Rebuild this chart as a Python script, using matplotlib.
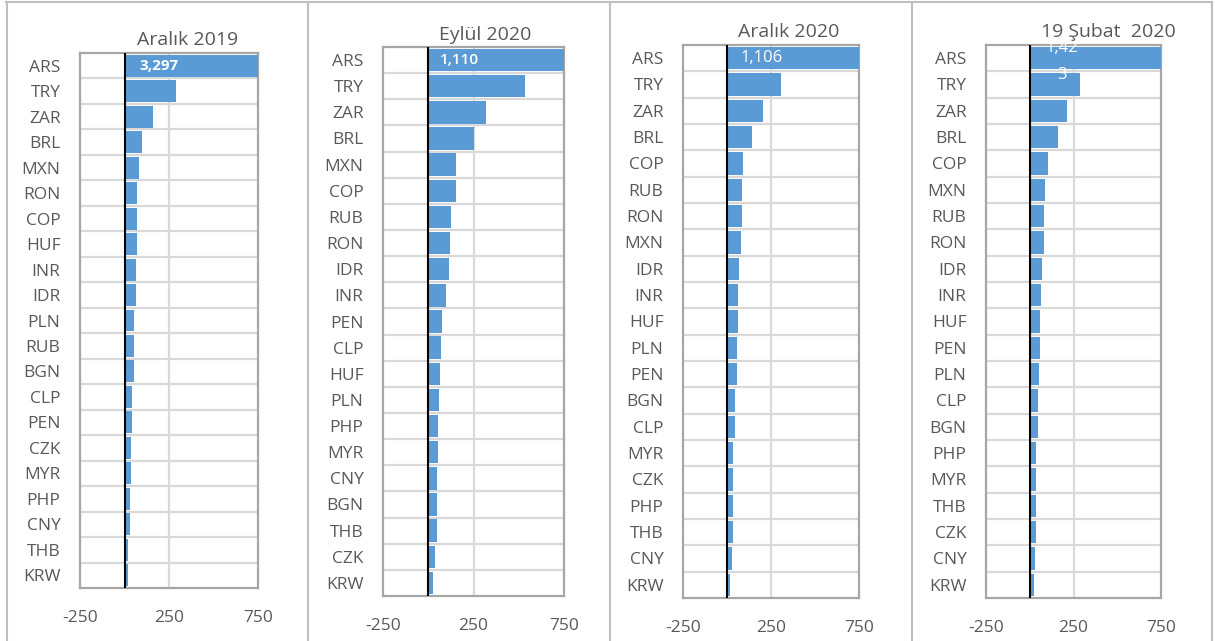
import matplotlib
matplotlib.use("Agg")
import matplotlib.pyplot as plt
from matplotlib.lines import Line2D

# ---- data ----
titles = ["Aralık 2019", "Eylül 2020", "Aralık 2020", "19 Şubat  2020"]

cur_dec19 = ["ARS", "TRY", "ZAR", "BRL", "MXN", "RON", "COP", "HUF", "INR", "IDR",
             "PLN", "RUB", "BGN", "CLP", "PEN", "CZK", "MYR", "PHP", "CNY", "THB", "KRW"]
val_dec19 = [3297, 287, 159, 98, 79, 71, 70, 70, 62, 62,
             56, 54, 54, 41, 41, 34, 34, 32, 30, 21, 21]

cur_sep20 = ["ARS", "TRY", "ZAR", "BRL", "MXN", "COP", "RUB", "RON", "IDR", "INR",
             "PEN", "CLP", "HUF", "PLN", "PHP", "MYR", "CNY", "BGN", "THB", "CZK", "KRW"]
val_sep20 = [1110, 534, 320, 250, 152, 152, 126, 118, 115, 100,
             78, 70, 67, 57, 55, 55, 50, 50, 50, 39, 28]

cur_dec20 = ["ARS", "TRY", "ZAR", "BRL", "COP", "RUB", "RON", "MXN", "IDR", "INR",
             "HUF", "PLN", "PEN", "BGN", "CLP", "MYR", "CZK", "PHP", "THB", "CNY", "KRW"]
val_dec20 = [1106, 304, 203, 144, 89, 85, 85, 82, 66, 65,
             61, 57, 55, 46, 44, 36, 36, 36, 34, 28, 19]

cur_feb20 = ["ARS", "TRY", "ZAR", "BRL", "COP", "MXN", "RUB", "RON", "IDR", "INR",
             "HUF", "PEN", "PLN", "CLP", "BGN", "PHP", "MYR", "THB", "CZK", "CNY", "KRW"]
val_feb20 = [1423, 286, 215, 164, 103, 86, 84, 84, 69, 65,
             59, 57, 50, 46, 46, 38, 38, 36, 36, 29, 23]

label_texts = ["3,297", "1,110", "1,106", "1,42\n3"]
x_ticks = [-250, 250, 750]

# ---- layout (pixels) ----
W, H = 1215, 641
fig = plt.figure(figsize=(W / 100, H / 100), dpi=100)
plt.rcParams['font.family'] = ['Open Sans', 'DejaVu Sans']

axes_px = [(80, 53, 258, 588), (383, 47, 564, 596), (683, 45, 859, 598), (986, 45, 1161, 598)]
title_px = [(188, 40), (485, 35), (789, 32), (1108, 32)]
label_pos = [194, 171, 199, 183]
label_row = [0, 0, 0, 0.12]
label_weight = ["bold", "semibold", "normal", "normal"]
label_size = [11, 11, 12, 12]
label_ls = [1.2, 1.2, 1.2, 1.9]

panels = [(cur_dec19, val_dec19), (cur_sep20, val_sep20), (cur_dec20, val_dec20), (cur_feb20, val_feb20)]

txt_col = "#595959"
bar_col = "#5B9BD5"
grid_col = "#D9D9D9"
spine_col = "#A6A6A6"

for i, ((cats, vals), (l, t, r, b)) in enumerate(zip(panels, axes_px)):
    ax = fig.add_axes([l / W, 1 - b / H, (r - l) / W, (b - t) / H])
    n = len(cats)
    y = list(range(n))
    ax.barh(y, vals, height=0.86, color=bar_col, zorder=3)
    ax.set_xlim(-250, 750)
    ax.set_ylim(n - 0.5, -0.5)
    ax.set_yticks(y)
    ax.set_yticklabels(cats)
    ax.set_xticks(x_ticks)
    ax.set_xticklabels([str(v) for v in x_ticks])
    ax.tick_params(axis='y', length=0, pad=14, labelsize=12.5, labelcolor=txt_col)
    ax.tick_params(axis='x', length=0, pad=16, labelsize=12.5, labelcolor=txt_col)
    for k in range(n - 1):
        ax.axhline(k + 0.5, color=grid_col, lw=1.6, zorder=1)
    ax.axvline(250, color=grid_col, lw=1.6, zorder=1)
    ax.axvline(0, color="black", lw=1.5, zorder=4)
    for s in ax.spines.values():
        s.set_color(spine_col)
        s.set_linewidth(1.6)
    ax.text(label_pos[i], label_row[i], label_texts[i], color="white", fontsize=label_size[i],
            fontweight=label_weight[i], ha="center", va="center",
            linespacing=label_ls[i], zorder=5, clip_on=False)
    tx, ty = title_px[i]
    fig.text(tx / W, 1 - ty / H, titles[i], ha="center", va="center",
             fontsize=14, color=txt_col)

# panel frames
frame_col = "#BFBFBF"
fig.add_artist(Line2D([6 / W, 1212 / W], [1 - 1.5 / H, 1 - 1.5 / H], color=frame_col, lw=1.5))
for xp in [6.5, 308, 610, 912, 1212]:
    fig.add_artist(Line2D([xp / W, xp / W], [1 - 1.5 / H, 0], color=frame_col, lw=1.5))

fig.savefig("out.png", dpi=100)
